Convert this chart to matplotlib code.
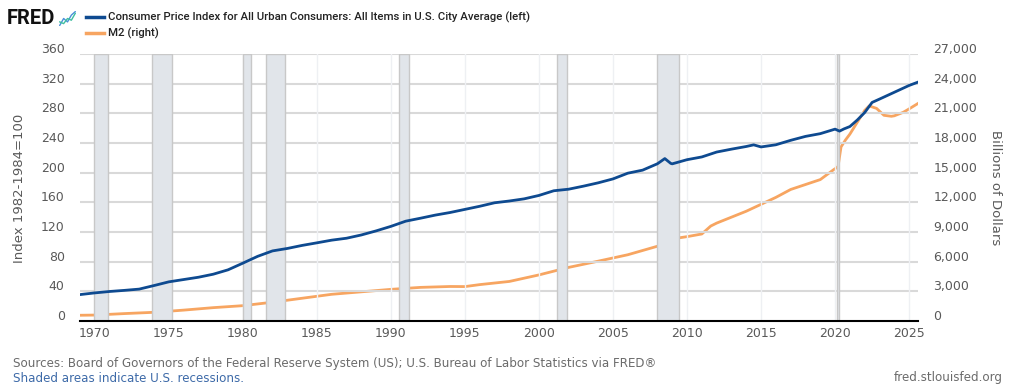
import numpy as np
import matplotlib.pyplot as plt
import matplotlib.transforms as mtransforms

# CPI (Index 1982-1984=100), Zeitpunkte in Dezimaljahren
cpi_dates = [1969.0, 1970.0, 1971.0, 1972.0, 1973.0, 1974.0, 1975.0, 1976.0, 1977.0, 1978.0,
             1979.0, 1980.0, 1981.0, 1982.0, 1983.0, 1984.0, 1985.0, 1986.0, 1987.0, 1988.0,
             1989.0, 1990.0, 1991.0, 1992.0, 1993.0, 1994.0, 1995.0, 1996.0, 1997.0, 1998.0,
             1999.0, 2000.0, 2001.0, 2002.0, 2003.0, 2004.0, 2005.0, 2006.0, 2007.0, 2008.0,
             2008.5, 2008.9, 2009.0, 2010.0, 2011.0, 2012.0, 2013.0, 2014.0, 2014.5, 2015.0,
             2016.0, 2017.0, 2018.0, 2019.0, 2020.0, 2020.3, 2020.6, 2021.0, 2021.5, 2022.0,
             2022.5, 2023.0, 2024.0, 2025.0, 2025.6]
cpi_values = [35.6, 37.9, 39.8, 41.3, 43.0, 47.8, 52.8, 55.9, 59.0, 63.1,
              69.0, 78.0, 87.2, 94.5, 97.8, 101.9, 105.4, 109.0, 111.6, 116.0,
              121.5, 127.6, 134.6, 138.6, 142.8, 146.3, 150.5, 154.7, 159.4, 161.8,
              164.7, 169.3, 175.6, 177.7, 181.8, 186.3, 191.6, 199.3, 203.4, 212.0,
              219.0, 212.5, 211.9, 217.5, 221.2, 227.8, 231.7, 235.3, 237.5, 234.7,
              237.6, 243.6, 248.9, 252.6, 258.7, 256.0, 259.0, 262.2, 271.0, 281.1,
              294.7, 299.2, 308.4, 317.6, 322.1]

# M2 in Milliarden Dollar
m2_dates = [1969.0, 1970.0, 1972.0, 1974.0, 1976.0, 1978.0, 1980.0, 1982.0, 1984.0, 1986.0,
            1988.0, 1990.0, 1992.0, 1994.0, 1995.0, 1996.0, 1998.0, 2000.0, 2002.0, 2004.0,
            2006.0, 2008.0, 2008.8, 2009.2, 2010.0, 2011.0, 2011.6, 2012.0, 2013.0, 2014.0,
            2015.0, 2016.0, 2017.0, 2018.0, 2019.0, 2019.9, 2020.2, 2020.4, 2020.7, 2021.0,
            2021.5, 2022.0, 2022.3, 2022.8, 2023.3, 2023.8, 2024.0, 2024.6, 2025.0, 2025.6]
m2_values = [580, 600, 750, 880, 1100, 1350, 1550, 1900, 2300, 2700,
             2950, 3200, 3400, 3490, 3480, 3680, 4000, 4660, 5420, 6050,
             6700, 7560, 7900, 8350, 8530, 8800, 9600, 9900, 10500, 11100,
             11800, 12500, 13300, 13800, 14300, 15300, 15600, 17600, 18300, 18900,
             20100, 21300, 21750, 21500, 20800, 20700, 20750, 21100, 21450, 22000]

# Rezessionen (Beginn, Ende)
recessions = [(1969.92, 1970.87), (1973.87, 1975.21), (1980.0, 1980.54), (1981.54, 1982.87),
              (1990.54, 1991.21), (2001.21, 2001.87), (2007.96, 2009.46), (2020.12, 2020.29)]

years = [1970, 1975, 1980, 1985, 1990, 1995, 2000, 2005, 2010, 2015, 2020, 2025]
left_ticks = [0, 40, 80, 120, 160, 200, 240, 280, 320, 360]
right_ticks = [0, 3000, 6000, 9000, 12000, 15000, 18000, 21000, 24000, 27000]

blue = '#0e4a90'
orange = '#f7a561'
grau = '#595959'
schmal = ['Roboto', 'DejaVu Sans']

plt.rcParams['font.family'] = ['DejaVu Sans']

fig = plt.figure(figsize=(10.24, 3.85), dpi=100)
ax1 = fig.add_axes([80/1024, 1-321/385, 838/1024, 267/385])
ax2 = ax1.twinx()

for a, b in recessions:
    ax1.axvspan(a, b, facecolor='#e1e5ea', edgecolor='#c8c8c8', linewidth=1.0, zorder=1)

for y in left_ticks[1:]:
    ax1.axhline(y, color='#d9d9d9', linewidth=1.5, zorder=0)
for x in years:
    ax1.axvline(x, color='#eef0f3', linewidth=1.0, zorder=0)

ax2.plot(m2_dates, m2_values, color=orange, linewidth=2.0, zorder=3)
ax1.plot(cpi_dates, cpi_values, color=blue, linewidth=2.0, zorder=4)
ax1.set_zorder(ax2.get_zorder() + 1)
ax1.patch.set_visible(False)

ax1.set_xlim(1969.0, 2025.6)
ax1.set_ylim(0, 360)
ax2.set_ylim(0, 27000)

ax1.set_xticks(years)
ax1.set_xticklabels([str(y) for y in years])
ax1.set_yticks(left_ticks)
ax1.set_yticklabels([str(v) for v in left_ticks])
ax2.set_yticks(right_ticks)
ax2.set_yticklabels(['0' if v == 0 else f'{v:,}' for v in right_ticks])

for a in (ax1, ax2):
    for s in a.spines.values():
        s.set_visible(False)
    a.tick_params(length=0, labelsize=9, labelcolor=grau)
ax1.spines['bottom'].set_visible(True)
ax1.spines['bottom'].set_color('black')
ax1.spines['bottom'].set_linewidth(1.5)
ax1.tick_params(axis='x', pad=4)
ax1.tick_params(axis='y', pad=11)
ax2.tick_params(axis='y', pad=11)

offset = mtransforms.ScaledTranslation(0, 6/100, fig.dpi_scale_trans)
for lab in ax1.get_yticklabels() + ax2.get_yticklabels():
    lab.set_transform(lab.get_transform() + offset)

fig.text(20/1024, 1-188/385, 'Index 1982-1984=100', fontsize=9.5, color=grau,
         rotation=90, ha='center', va='center')
fig.text(995/1024, 1-188/385, 'Billions of Dollars', fontsize=9.5, color=grau,
         rotation=-90, ha='center', va='center')

# Kopfzeile
fig.text(7/1024, 1-18/385, 'FRED', fontsize=14.5, fontweight='bold', color='#111111',
         va='center', family=schmal)
icon = fig.add_axes([59/1024, 1-26/385, 17/1024, 15/385])
icon.plot([0, 1, 2, 3, 4], [0, 2, 1, 3, 4], color='#4a90d9', linewidth=1)
icon.plot([0, 1, 2, 3, 4], [1, 0.5, 2, 1.5, 3.5], color='#3fbf9f', linewidth=1)
icon.axis('off')

fig.lines.append(plt.Line2D([86/1024, 104/1024], [1-17/385, 1-17/385], transform=fig.transFigure,
                            color=blue, linewidth=2.5))
fig.lines.append(plt.Line2D([86/1024, 104/1024], [1-33/385, 1-33/385], transform=fig.transFigure,
                            color=orange, linewidth=2.5))
fig.text(108/1024, 1-17/385, 'Consumer Price Index for All Urban Consumers: All Items in U.S. City Average (left)',
         fontsize=8.2, color='#222222', va='center', family=schmal, fontweight='medium')
fig.text(108/1024, 1-33/385, 'M2 (right)', fontsize=8.2, color='#222222', va='center', family=schmal,
         fontweight='medium')

# Fusszeile
fig.text(13/1024, 1-364/385, 'Sources: Board of Governors of the Federal Reserve System (US); U.S. Bureau of Labor Statistics via FRED®',
         fontsize=8.6, color='#6b6b6b', va='center')
fig.text(13/1024, 1-378/385, 'Shaded areas indicate U.S. recessions.', fontsize=8.6, color='#3d6aa8', va='center')
fig.text(1003/1024, 1-378/385, 'fred.stlouisfed.org', fontsize=8.6, color='#6b6b6b', va='center', ha='right')

fig.savefig('out.png', dpi=100)
